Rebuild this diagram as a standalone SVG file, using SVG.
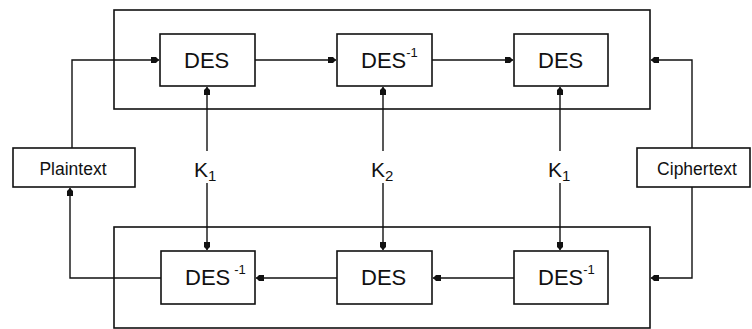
<svg xmlns="http://www.w3.org/2000/svg" width="752" height="329" viewBox="0 0 752 329">
<style>
.box{fill:none;stroke:#111;stroke-width:1.6}
.nb{fill:#fff;stroke:#111;stroke-width:1.6}
.ln{fill:none;stroke:#111;stroke-width:1.4}
.t{font-family:"Liberation Sans",Arial,sans-serif;fill:#111}
.des{font-size:22px}
.sup{font-size:13px}
.io{font-size:17.5px}
.k{font-size:21px}
.ks{font-size:15px}
</style>
<defs>
<marker id="ah" markerUnits="userSpaceOnUse" markerWidth="12" markerHeight="10" refX="0" refY="0" viewBox="-9 -5 12 10" orient="auto">
<path d="M-8,-3 L-3,-3 L0,0 L-3,3 L-8,3 Z" fill="#111"/>
</marker>
</defs>
<rect width="752" height="329" fill="#fff"/>
<g id="stage-top"><rect class="box" x="114" y="10" width="536" height="99"/></g>
<g id="stage-bottom"><rect class="box" x="114" y="227" width="536" height="101"/></g>
<g id="connectors">
<polyline class="ln" points="72,148 72,60 159,60" marker-end="url(#ah)"/>
<line class="ln" x1="255" y1="60" x2="336" y2="60" marker-end="url(#ah)"/>
<line class="ln" x1="432" y1="60" x2="513" y2="60" marker-end="url(#ah)"/>
<polyline class="ln" points="692,148 692,60 651,60" marker-end="url(#ah)"/>
<polyline class="ln" points="692,187 692,278 651,278" marker-end="url(#ah)"/>
<line class="ln" x1="514" y1="278" x2="433" y2="278" marker-end="url(#ah)"/>
<line class="ln" x1="337" y1="278" x2="256" y2="278" marker-end="url(#ah)"/>
<polyline class="ln" points="161,278 70,278 70,188" marker-end="url(#ah)"/>
<line class="ln" x1="207" y1="151" x2="207" y2="87" marker-end="url(#ah)"/>
<line class="ln" x1="207" y1="183" x2="207" y2="250" marker-end="url(#ah)"/>
<line class="ln" x1="383" y1="151" x2="383" y2="87" marker-end="url(#ah)"/>
<line class="ln" x1="383" y1="183" x2="383" y2="250" marker-end="url(#ah)"/>
<line class="ln" x1="560" y1="151" x2="560" y2="87" marker-end="url(#ah)"/>
<line class="ln" x1="560" y1="183" x2="560" y2="250" marker-end="url(#ah)"/>
</g>
<g id="plaintext"><rect class="nb" x="13" y="148" width="122" height="39"/><text class="t io" x="73" y="175" text-anchor="middle">Plaintext</text></g>
<g id="ciphertext"><rect class="nb" x="637" y="148" width="113" height="39"/><text class="t io" x="697" y="175" text-anchor="middle">Ciphertext</text></g>
<g id="des-top-1"><rect class="nb" x="160" y="34" width="95" height="52"/><text class="t des" x="184" y="68">DES</text></g>
<g id="desinv-top-2"><rect class="nb" x="337" y="34" width="95" height="52"/><text class="t des" x="361" y="68">DES<tspan class="sup" dy="-11">-1</tspan></text></g>
<g id="des-top-3"><rect class="nb" x="514" y="34" width="94" height="52"/><text class="t des" x="538" y="68">DES</text></g>
<g id="desinv-bottom-1"><rect class="nb" x="161" y="251" width="94" height="53"/><text class="t des" x="185" y="285">DES<tspan class="sup" dx="4" dy="-11">-1</tspan></text></g>
<g id="des-bottom-2"><rect class="nb" x="337" y="251" width="95" height="53"/><text class="t des" x="361" y="285">DES</text></g>
<g id="desinv-bottom-3"><rect class="nb" x="514" y="251" width="94" height="53"/><text class="t des" x="538" y="285">DES<tspan class="sup" dy="-11">-1</tspan></text></g>
<g id="key-k1-left"><text class="t k" x="194" y="177">K<tspan class="ks" dy="4">1</tspan></text></g>
<g id="key-k2"><text class="t k" x="371" y="177">K<tspan class="ks" dy="4">2</tspan></text></g>
<g id="key-k1-right"><text class="t k" x="548" y="177">K<tspan class="ks" dy="4">1</tspan></text></g>
</svg>
